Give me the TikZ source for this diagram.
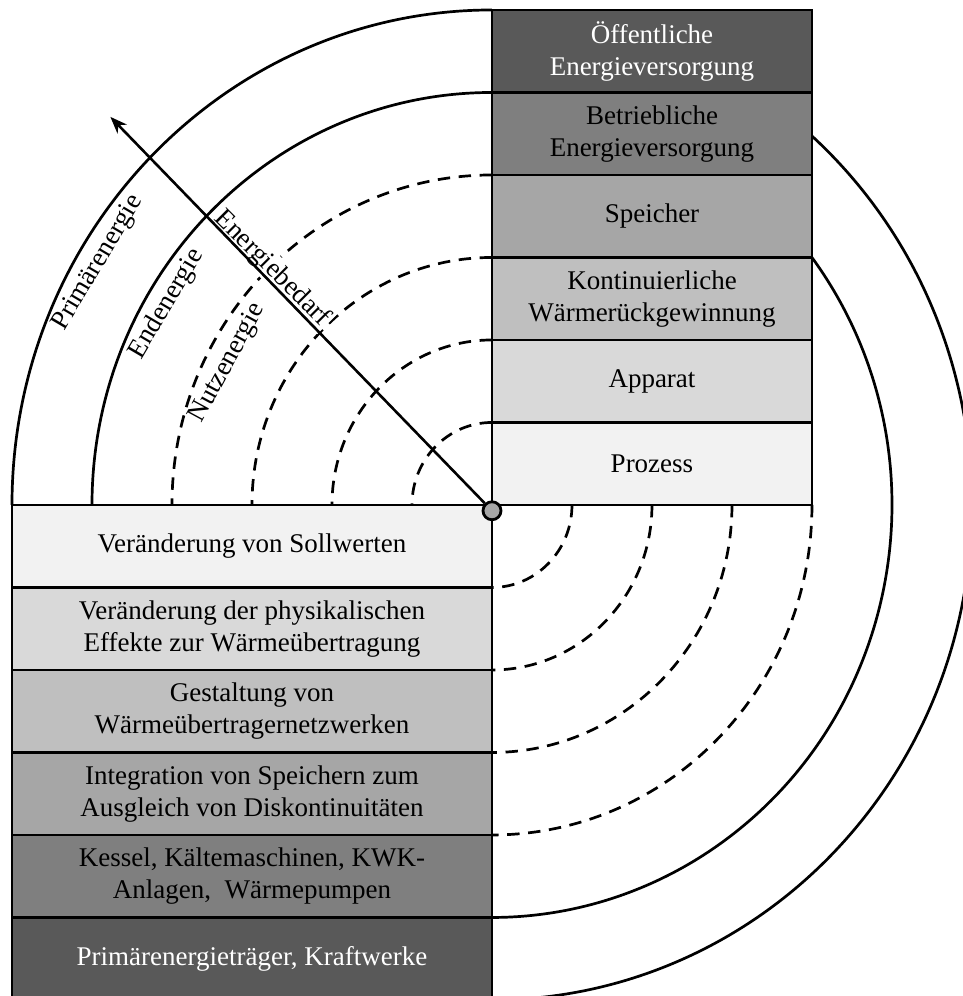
\documentclass[tikz,border=0pt]{standalone}
\usepackage{fontspec}
\setmainfont{Liberation Serif}
\usetikzlibrary{arrows.meta}

\begin{document}
\begin{tikzpicture}[x=40pt, y=41.25pt, >={Stealth[length=8.5pt, width=6.5pt]},
    ebene/.style={draw, line width=1.4pt, minimum height=41.25pt, align=center, inner sep=2pt, font=\fontsize{13.5}{15.9}\selectfont},
    rechts/.style={ebene, minimum width=160pt},
    links/.style={ebene, minimum width=240pt},
    bogen/.style={line width=1.35pt},
    strichbogen/.style={bogen, dash pattern=on 6.2pt off 4.3pt},
    beschriftung/.style={font=\fontsize{13.5}{15.9}\selectfont, inner sep=1pt}]
        % Farben
        \definecolor{g95}{HTML}{F2F2F2}
        \definecolor{g85}{HTML}{D9D9D9}
        \definecolor{g75}{HTML}{BFBFBF}
        \definecolor{g65}{HTML}{A6A6A6}
        \definecolor{g50}{HTML}{7F7F7F}
        \definecolor{g35}{HTML}{595959}

        \useasboundingbox (-6.15,-5.952) rectangle (5.8875,6.121);
        \clip (-6.15,-5.952) rectangle (5.8875,6.121);

        % Kreisboegen
        \draw[bogen] (90:6) arc[start angle=90, end angle=180, radius=6];
        \draw[bogen] (90:5) arc[start angle=90, end angle=180, radius=5];
        \draw[bogen] ({acos(4/6)}:6) arc[start angle={acos(4/6)}, end angle=-90, radius=6];
        \draw[bogen] ({acos(4/5)}:5) arc[start angle={acos(4/5)}, end angle=-90, radius=5];
        \foreach \r in {1,...,4} {
            \draw[strichbogen] (90:\r) arc[start angle=90, end angle=180, radius=\r];
            \draw[strichbogen] (0:\r) arc[start angle=0, end angle=-90, radius=\r];
        }

        % Ebenen rechts
        \node[rechts, fill=g35, text=white] (oeffentlich) at (2,5.5) {Öffentliche\\Energieversorgung};
        \node[rechts, fill=g50] (betrieblich) at (2,4.5) {Betriebliche\\Energieversorgung};
        \node[rechts, fill=g65] (speicher) at (2,3.5) {Speicher};
        \node[rechts, fill=g75] (waermerueck) at (2,2.5) {Kontinuierliche\\Wärmerückgewinnung};
        \node[rechts, fill=g85] (apparat) at (2,1.5) {Apparat};
        \node[rechts, fill=g95] (prozess) at (2,0.5) {Prozess};

        % Ebenen links
        \node[links, fill=g95] (sollwerte) at (-3,-0.5) {Veränderung von Sollwerten};
        \node[links, fill=g85] (effekte) at (-3,-1.5) {Veränderung der physikalischen\\Effekte zur Wärmeübertragung};
        \node[links, fill=g75] (netzwerke) at (-3,-2.5) {Gestaltung von\\Wärmeübertragernetzwerken};
        \node[links, fill=g65] (integration) at (-3,-3.5) {Integration von Speichern zum\\Ausgleich von Diskontinuitäten};
        \node[links, fill=g50] (kessel) at (-3,-4.5) {Kessel, Kältemaschinen, KWK-\\Anlagen,~ Wärmepumpen};
        \node[links, fill=g35, text=white] (kraftwerke) at (-3,-5.5) {Primärenergieträger, Kraftwerke};

        % Energieformen
        \node[beschriftung, rotate=59.5] (primaer) at (149.2:5.73) {Primärenergie};
        \node[beschriftung, rotate=59.5] (endenergie) at (149.1:4.74) {Endenergie};
        \node[beschriftung, rotate=61.5] (nutzenergie) at (152.5:3.72) {Nutzenergie};
        \node[beschriftung, rotate=-45, anchor=base, fill=white] (bedarf) at (135:3.97) {Energiebedarf};

        % Pfeil
        \node[circle, draw, line width=1.4pt, fill=g65, minimum size=9pt, inner sep=0pt] (mitte) at (0,-0.07) {};
        \coordinate (spitze) at (135.4:6.7);
        \draw[->, line width=1.3pt] (mitte) -- (spitze);

\end{tikzpicture}
\end{document}
